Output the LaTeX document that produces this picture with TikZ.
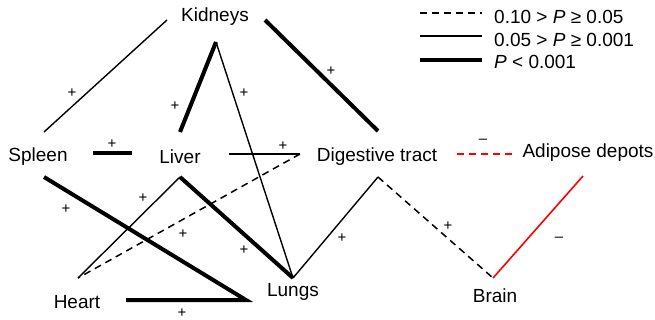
\documentclass[tikz,border=0pt]{standalone}
\usepackage{fontspec}
\setmainfont{Liberation Sans}
\begin{document}
\begin{tikzpicture}[x=1pt,y=-1pt,
  lbl/.style={font=\fontsize{19}{21}\selectfont, inner sep=0pt, anchor=center},
  sgn/.style={font=\fontsize{15}{16}\selectfont, inner sep=0pt, anchor=center},
  thin/.style={line width=1.4pt},
  thk/.style={line width=4pt},
  dsh/.style={line width=1.5pt, dash pattern=on 7pt off 5pt},
  rdsh/.style={line width=1.6pt, dash pattern=on 7pt off 5pt, draw=red},
  rthin/.style={line width=1.6pt, draw=red}]
\useasboundingbox (0,0) rectangle (655,320);
% labels
\node[lbl] (kid) at (215,17) {Kidneys};
\node[lbl] (spl) at (38,157) {Spleen};
\node[lbl] (liv) at (180,157) {Liver};
\node[lbl] (dig) at (377,157) {Digestive tract};
\node[lbl] (adi) at (588,153) {Adipose depots};
\node[lbl] (hea) at (77,302) {Heart};
\node[lbl] (lun) at (293,292) {Lungs};
\node[lbl] (bra) at (495,296) {Brain};
% endpoints
\coordinate (kidL) at (167,20);
\coordinate (kidB) at (216,42);
\coordinate (kidR) at (265,20);
\coordinate (splT) at (44,132);
\coordinate (splB) at (44,177);
\coordinate (splR) at (93,153);
\coordinate (livL) at (132,153);
\coordinate (livT) at (180,132);
\coordinate (livR) at (229,154);
\coordinate (livB) at (180,177);
\coordinate (digL) at (300,154);
\coordinate (digT) at (378,131);
\coordinate (digB) at (378,177);
\coordinate (heaT) at (78,278);
\coordinate (heaR) at (126,300);
\coordinate (cor) at (246,300);
\coordinate (lunT) at (293,278);
\coordinate (braT) at (493,278);
\coordinate (adiB) at (583,176);
% connectors
\draw[thin] (kidL) -- (splT);
\draw[thk] (kidB) -- (livT);
\draw[thin] (kidB) -- (lunT);
\draw[thk] (kidR) -- (digT);
\draw[thk] (splR) -- (livL);
\draw[thin] (livR) -- (digL);
\draw[dsh] (digL) -- (heaT);
\draw[thin] (livB) -- (heaT);
\draw[thk] (livB) -- (lunT);
\draw[thk, line join=miter] (splB) -- (cor) -- (heaR);
\draw[thin] (lunT) -- (digB);
\draw[dsh] (digB) -- (braT);
\draw[rthin] (braT) -- (adiB);
\draw[rdsh] (457,154) coordinate (rl1) -- (513,154) coordinate (rl2);
% signs
\node[sgn] (s1) at (72,93) {+};
\node[sgn] (s2) at (175,106) {+};
\node[sgn] (s3) at (244,93) {+};
\node[sgn] (s4) at (331,71) {+};
\node[sgn] (s5) at (112,144) {+};
\node[sgn] (s6) at (283,146) {+};
\node[sgn] (s7) at (483,141) {--};
\node[sgn] (s8) at (66,209) {+};
\node[sgn] (s9) at (143,198) {+};
\node[sgn] (s10) at (183,234) {+};
\node[sgn] (s11) at (244,250) {+};
\node[sgn] (s12) at (182,313) {+};
\node[sgn] (s13) at (342,238) {+};
\node[sgn] (s14) at (448,226) {+};
\node[sgn] (s15) at (559,239) {--};
% legend
\coordinate (lg1a) at (420,13); \coordinate (lg1b) at (482,13);
\coordinate (lg2a) at (420,36); \coordinate (lg2b) at (482,36);
\coordinate (lg3a) at (420,60); \coordinate (lg3b) at (482,60);
\draw[dsh] (lg1a) -- (lg1b);
\draw[thin] (lg2a) -- (lg2b);
\draw[thk] (lg3a) -- (lg3b);
\node[lbl, anchor=west] (lt1) at (494,17) {0.10 > \textit{P} ≥ 0.05};
\node[lbl, anchor=west] (lt2) at (494,40) {0.05 > \textit{P} ≥ 0.001};
\node[lbl, anchor=west] (lt3) at (494,62) {\textit{P} < 0.001};
\end{tikzpicture}
\end{document}
